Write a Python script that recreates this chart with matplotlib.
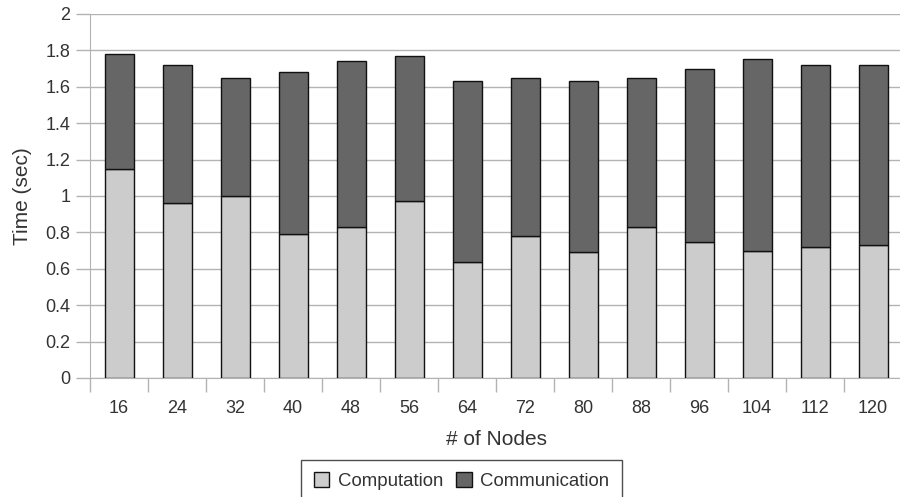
import matplotlib
matplotlib.use("Agg")
import matplotlib.pyplot as plt

plt.rcParams['font.family'] = ['Liberation Sans', 'DejaVu Sans']

nodes = ['16', '24', '32', '40', '48', '56', '64', '72', '80', '88', '96', '104', '112', '120']
computation = [1.15, 0.96, 1.00, 0.79, 0.83, 0.97, 0.64, 0.78, 0.69, 0.83, 0.75, 0.70, 0.72, 0.73]
total = [1.78, 1.72, 1.65, 1.68, 1.74, 1.77, 1.63, 1.65, 1.63, 1.65, 1.70, 1.75, 1.72, 1.72]
communication = [t - c for t, c in zip(total, computation)]

fig = plt.figure(figsize=(9, 4.97), dpi=100)
ax = fig.add_axes([90/900, (497-378)/497, 812/900, 364/497])

x = list(range(len(nodes)))
w = 0.5
b1 = ax.bar(x, computation, width=w, color='#cccccc', edgecolor='#111111', linewidth=1.0, label='Computation', zorder=3)
b2 = ax.bar(x, communication, width=w, bottom=computation, color='#666666', edgecolor='#111111', linewidth=1.0, label='Communication', zorder=3)

ax.set_xlim(-0.5, len(nodes) - 0.5)
ax.set_ylim(0, 2)
ax.set_yticks([0, 0.2, 0.4, 0.6, 0.8, 1, 1.2, 1.4, 1.6, 1.8, 2])
ax.set_yticklabels(['0', '0.2', '0.4', '0.6', '0.8', '1', '1.2', '1.4', '1.6', '1.8', '2'])
ax.yaxis.grid(True, color='#b3b3b3', linewidth=1.0, zorder=0)
ax.set_axisbelow(True)

ax.set_xticks([i - 0.5 for i in range(len(nodes) + 1)])
ax.set_xticklabels([])
ax.set_xticks(x, minor=True)
ax.set_xticklabels(nodes, minor=True)
ax.tick_params(axis='x', which='major', length=10, color='#b3b3b3', width=1.0, direction='out')
ax.tick_params(axis='x', which='minor', length=0, pad=16, labelsize=13, labelcolor='#333333')
ax.tick_params(axis='y', length=10, color='#b3b3b3', width=1.0, labelsize=13, labelcolor='#333333', pad=4)

for s in ['top', 'right']:
    ax.spines[s].set_visible(False)
ax.spines['left'].set_color('#b3b3b3')
ax.spines['bottom'].set_color('#b3b3b3')

ax.set_ylabel('Time (sec)', fontsize=15, color='#333333', labelpad=10)
ax.set_xlabel('# of Nodes', fontsize=15, color='#333333', labelpad=9)

leg = fig.legend(handles=[b1, b2], labels=['Computation', 'Communication'], loc='center',
                 bbox_to_anchor=(461.5/900, 1 - 481/497), ncol=2, frameon=True, fancybox=False,
                 fontsize=13.4, handlelength=0.85, handleheight=0.85, handletextpad=0.45,
                 columnspacing=0.7, borderpad=0.65, borderaxespad=0, edgecolor='#222222')
leg.get_frame().set_linewidth(1.0)
for t in leg.get_texts():
    t.set_color('#333333')

fig.savefig('out.png', dpi=100)
